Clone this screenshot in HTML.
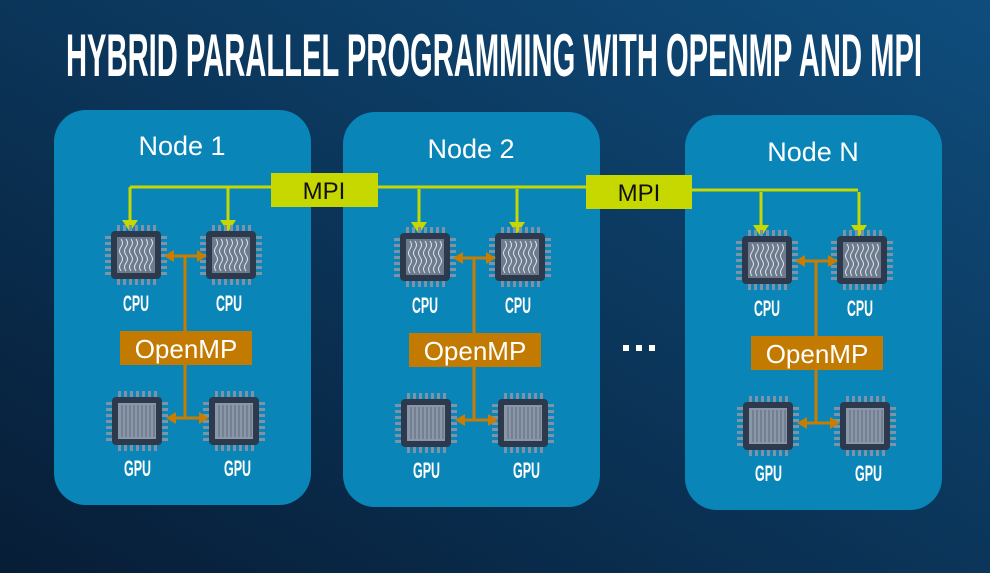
<!DOCTYPE html>
<html><head><style>
html,body{margin:0;padding:0;width:990px;height:573px;overflow:hidden;background:#0b2a4c}
svg{display:block}
text{font-family:"Liberation Sans",sans-serif}
</style></head><body>
<svg width="990" height="573" viewBox="0 0 990 573" xmlns="http://www.w3.org/2000/svg">
<defs>
<linearGradient id="bg" x1="0" y1="1" x2="1" y2="0">
<stop offset="0" stop-color="#071d36"/><stop offset="1" stop-color="#0f4d7d"/>
</linearGradient>
<g id="pins">
<g fill="#7f93a8">
<rect x="-19" y="-30" width="3" height="6"/><rect x="-13" y="-30" width="3" height="6"/><rect x="-7" y="-30" width="3" height="6"/><rect x="-1" y="-30" width="3" height="6"/><rect x="5" y="-30" width="3" height="6"/><rect x="11" y="-30" width="3" height="6"/><rect x="17" y="-30" width="3" height="6"/>
<rect x="-19" y="24" width="3" height="6"/><rect x="-13" y="24" width="3" height="6"/><rect x="-7" y="24" width="3" height="6"/><rect x="-1" y="24" width="3" height="6"/><rect x="5" y="24" width="3" height="6"/><rect x="11" y="24" width="3" height="6"/><rect x="17" y="24" width="3" height="6"/>
<rect y="-19" x="-31" height="3" width="6"/><rect y="-13" x="-31" height="3" width="6"/><rect y="-7" x="-31" height="3" width="6"/><rect y="-1" x="-31" height="3" width="6"/><rect y="5" x="-31" height="3" width="6"/><rect y="11" x="-31" height="3" width="6"/><rect y="17" x="-31" height="3" width="6"/>
<rect y="-19" x="25" height="3" width="6"/><rect y="-13" x="25" height="3" width="6"/><rect y="-7" x="25" height="3" width="6"/><rect y="-1" x="25" height="3" width="6"/><rect y="5" x="25" height="3" width="6"/><rect y="11" x="25" height="3" width="6"/><rect y="17" x="25" height="3" width="6"/>
</g>
<rect x="-25" y="-24" width="50" height="48" rx="4" fill="#2d3a4d"/>
</g>
<g id="cpu">
<use href="#pins"/>
<rect x="-19" y="-18" width="38" height="36" fill="#6d7b8d"/>
<g stroke="#dfe6ee" stroke-width="1" fill="none">
<path d="M-15 -16 q3 4 0 8 q-3 4 0 8 q3 4 0 8 q-3 4 0 8"/>
<path d="M-10 -16 q3 4 0 8 q-3 4 0 8 q3 4 0 8 q-3 4 0 8"/>
<path d="M-5 -16 q3 4 0 8 q-3 4 0 8 q3 4 0 8 q-3 4 0 8"/>
<path d="M0 -16 q3 4 0 8 q-3 4 0 8 q3 4 0 8 q-3 4 0 8"/>
<path d="M5 -16 q3 4 0 8 q-3 4 0 8 q3 4 0 8 q-3 4 0 8"/>
<path d="M10 -16 q3 4 0 8 q-3 4 0 8 q3 4 0 8 q-3 4 0 8"/>
<path d="M15 -16 q3 4 0 8 q-3 4 0 8 q3 4 0 8 q-3 4 0 8"/>
</g>
</g>
<g id="gpu">
<use href="#pins"/>
<rect x="-19" y="-18" width="38" height="36" fill="#8a97a8"/>
<g stroke="#5d6a7c" stroke-width="1">
<path d="M-15 -16v32M-11 -16v32M-7 -16v32M-3 -16v32M1 -16v32M5 -16v32M9 -16v32M13 -16v32M17 -16v32"/>
</g>
</g>
<g id="node">
<rect x="54" y="110" width="257" height="395" rx="32" fill="#0a85b8"/>
<path d="M130 187V222M228 187V222" stroke="#c6d800" stroke-width="3"/>
<polygon points="122,220 138,220 130,232" fill="#c6d800"/>
<polygon points="220,220 236,220 228,232" fill="#c6d800"/>
<use href="#cpu" x="136" y="255"/>
<use href="#cpu" x="231" y="255"/>
<use href="#gpu" x="137" y="421"/>
<use href="#gpu" x="234" y="421"/>
<g fill="#fff" font-weight="bold" font-size="22" style="font-family:'Liberation Sans Narrow','Liberation Sans',sans-serif">
<text x="123" y="311" textLength="26" lengthAdjust="spacingAndGlyphs">CPU</text>
<text x="216" y="311" textLength="26" lengthAdjust="spacingAndGlyphs">CPU</text>
<text x="124" y="476" textLength="27" lengthAdjust="spacingAndGlyphs">GPU</text>
<text x="224" y="476" textLength="27" lengthAdjust="spacingAndGlyphs">GPU</text>
</g>
<path d="M185 256V418M172 256H199M172 418H199" stroke="#c87d00" stroke-width="3" fill="none"/>
<polygon points="164,256 174,250 174,262" fill="#c87d00"/>
<polygon points="207,256 197,250 197,262" fill="#c87d00"/>
<polygon points="166,418 176,412 176,424" fill="#c87d00"/>
<polygon points="209,418 199,412 199,424" fill="#c87d00"/>
<rect x="120" y="331" width="132" height="34" fill="#c27a00"/>
<text x="186" y="358" fill="#fff" font-size="26" text-anchor="middle">OpenMP</text>
</g>
</defs>
<rect width="990" height="573" fill="url(#bg)"/>
<text x="494" y="76" fill="#fff" font-size="60" font-weight="bold" text-anchor="middle" textLength="856" lengthAdjust="spacingAndGlyphs" style="font-family:'Liberation Sans Narrow','Liberation Sans',sans-serif">HYBRID PARALLEL PROGRAMMING WITH OPENMP AND MPI</text>
<use href="#node"/>
<use href="#node" x="289" y="2"/>
<use href="#node" x="631" y="5"/>
<g fill="#fff" font-size="27" text-anchor="middle">
<text x="182" y="155">Node 1</text>
<text x="471" y="158">Node 2</text>
<text x="813" y="161">Node N</text>
</g>
<path d="M130 187H586M586 190H858" stroke="#c6d800" stroke-width="3" fill="none"/>
<rect x="271" y="173" width="107" height="34" fill="#c6d800"/>
<rect x="586" y="175" width="106" height="34" fill="#c6d800"/>
<g fill="#111" font-size="24" text-anchor="middle">
<text x="324" y="199">MPI</text>
<text x="639" y="201">MPI</text>
</g>
<g fill="#fff"><rect x="623" y="345" width="6" height="6"/><rect x="636" y="345" width="6" height="6"/><rect x="649" y="345" width="6" height="6"/></g>
</svg>
</body></html>
